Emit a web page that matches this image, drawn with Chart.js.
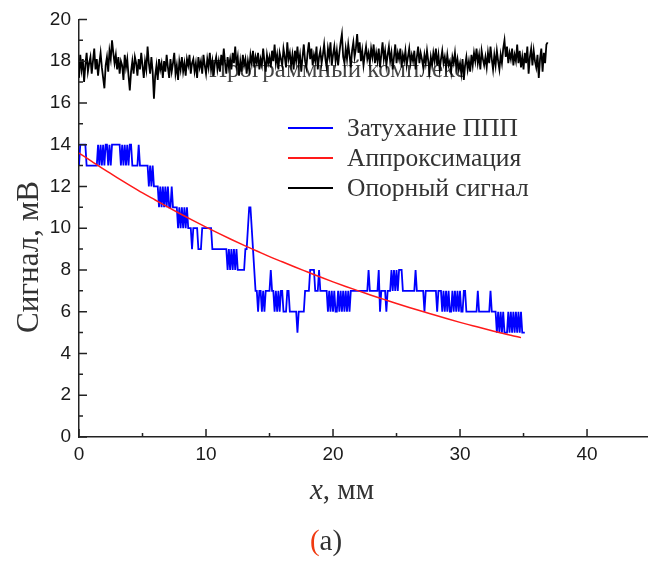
<!DOCTYPE html>
<html><head><meta charset="utf-8">
<style>html,body{margin:0;padding:0;background:#fff}canvas{display:block}</style>
<script src="https://cdn.jsdelivr.net/npm/chart.js@4.4.1/dist/chart.umd.min.js"></script>
</head><body>
<canvas id="c" width="648" height="562"></canvas>
<script>
const seriesNames = ['Затухание ППП', 'Аппроксимация', 'Опорный сигнал'];
const seriesColors = ['#0000ff', '#ff1a1a', '#000000'];
const xTicks = [0, 10, 20, 30, 40];
const yTicks = [0, 2, 4, 6, 8, 10, 12, 14, 16, 18, 20];
const xMinorTicks = [5, 15, 25, 35];
const yMinorTicks = [1, 3, 5, 7, 9, 11, 13, 15, 17, 19];
const annotationText = 'Программный комплекс';
const yTitle = 'Сигнал, мВ';
const xTitleItalic = 'x';
const xTitleRest = ', мм';
const panelOpen = '(';
const panelRest = 'a)';

// blue: sampled every 0.1 mm from 0
const blueStep = 0.1;
const blueValues = [
13,14,14,14,14,14,13,13,13,13,
13,13,13,13,13,14,13,14,13,14,
13,14,14,13,14,13,14,14,14,14,
14,14,14,13,14,13,14,13,14,13,
14,14,13,13,13,13,13,14,13,13,
13,13,13,13,13,12,13,12,13,12,
12,12,12,11,12,11,12,11,12,11,
12,11,11,12,11,11,11,11,10,11,
10,11,10,11,10,11,10,10,10,9,
10,10,10,10,9,9,9,10,10,10,
10,10,10,10,10,9,9,9,9,9,
9,9,9,9,9,9,9,8,9,8,
9,8,9,8,9,8,8,8,8,8,
8,9,9,10,11,11,10,9,8,7,
7,6,7,7,6,7,6,7,7,7,
7,8,7,7,6,7,6,7,6,7,
7,6,6,6,7,7,6,6,6,6,
6,6,5,6,6,6,6,6,7,7,
7,7,8,8,8,8,7,7,7,8,
7,7,7,7,7,7,6,7,6,7,
6,7,6,6,7,6,7,6,7,6,
7,6,7,6,7,7,7,7,7,7,
7,7,7,7,7,7,7,7,8,7,
7,7,7,7,7,7,8,6,7,7,
7,7,6,7,7,7,8,7,8,7,
8,7,8,8,8,7,7,7,7,7,
7,7,7,7,7,8,7,7,7,7,
7,7,6,7,7,7,7,7,7,7,
7,7,6,7,7,7,6,7,6,7,
6,7,6,6,7,6,7,6,7,6,
7,6,6,7,7,6,6,6,6,6,
6,6,6,6,7,6,6,6,6,6,
6,6,6,6,7,6,6,6,6,5,
6,5,6,5,6,5,5,5,6,5,
6,5,6,5,6,5,6,5,6,5,
5,5
];

const redX = [0,1,2,3,4,5,6,7,8,9,10,11,12,13,14,15,16,17,18,19,20,21,22,23,24,25,26,27,28,29,30,31,32,33,34,34.8];
const redValues = [13.60,13.20,12.80,12.42,12.05,11.69,11.35,11.01,10.68,10.36,10.05,9.75,9.46,9.18,8.91,8.64,8.39,8.14,7.90,7.66,7.43,7.21,7.00,6.79,6.59,6.39,6.20,6.02,5.84,5.66,5.49,5.33,5.17,5.02,4.87,4.76];

// black: sampled every 0.1 mm from 0
const blackStep = 0.1;
const blackValues = [
17.2,18.3,17.6,18.1,17.0,17.8,18.4,17.5,17.9,18.2,
17.4,18.0,18.6,17.6,18.1,17.3,17.9,18.4,17.7,17.2,
16.7,17.8,18.2,17.5,18.5,18.1,19.0,18.4,17.9,18.3,
17.6,18.2,17.4,18.0,17.8,17.1,18.3,17.7,18.1,17.3,
16.6,17.5,18.0,17.4,18.2,17.9,17.3,18.1,17.6,18.4,
17.8,17.2,18.0,17.6,18.7,17.9,17.4,18.2,17.5,16.2,
17.3,17.8,17.1,18.1,17.6,17.9,17.2,18.0,17.5,18.3,
17.7,17.2,18.1,17.5,17.9,18.4,17.4,17.8,17.1,18.0,
17.6,18.2,17.5,17.9,17.3,18.1,17.8,18.3,17.4,17.9,
18.1,17.5,17.9,17.2,18.2,17.7,18.0,17.4,18.3,17.8,
17.4,18.1,17.7,18.4,17.6,18.0,17.3,17.9,18.2,17.6,
18.0,17.5,18.3,17.8,18.6,17.9,17.4,18.2,17.7,18.1,
17.6,18.4,17.9,18.7,17.8,18.2,17.3,18.0,17.5,18.3,
17.8,18.1,17.4,18.0,17.6,18.3,17.9,18.5,17.7,18.2,
17.9,18.4,17.6,18.1,17.8,18.6,18.0,17.5,18.3,17.9,
18.2,17.7,18.5,18.0,18.8,17.9,18.3,17.6,18.4,18.1,
17.8,18.6,18.2,17.7,18.9,18.1,18.4,17.8,18.3,17.6,
18.5,18.0,18.7,17.9,18.3,17.5,18.2,18.8,18.0,17.7,
18.4,18.9,18.1,18.6,17.8,18.3,18.0,18.7,17.6,18.2,
18.5,17.9,18.3,18.8,18.1,17.7,18.6,18.2,18.9,17.8,
18.3,18.7,18.0,18.5,17.8,18.4,18.9,19.3,18.2,17.9,
18.6,18.1,18.8,18.3,17.7,18.5,18.9,18.2,18.6,19.3,
18.4,18.9,18.0,18.5,17.8,18.3,18.7,18.1,18.4,17.9,
18.6,18.2,18.8,17.9,18.4,18.0,18.6,17.7,18.3,18.9,
18.1,18.5,17.8,18.3,18.7,18.0,18.4,17.6,18.2,18.8,
17.9,18.4,18.1,18.6,17.7,18.3,18.0,18.5,17.8,18.2,
18.6,17.9,18.3,18.0,18.5,17.6,18.2,18.7,17.9,18.4,
18.1,17.7,18.3,17.9,18.5,18.0,17.5,18.2,17.8,18.4,
18.0,18.6,17.8,18.3,17.6,18.1,18.5,17.9,18.2,17.7,
18.3,17.8,18.0,17.5,18.2,17.9,18.4,17.7,18.1,17.6,
17.9,17.4,18.1,17.1,17.8,18.2,17.6,18.0,17.5,18.3,
17.8,18.4,18.0,18.6,17.9,18.3,17.6,18.5,18.1,17.8,
18.2,17.7,18.4,17.9,18.7,18.1,17.6,18.3,17.8,18.5,
18.0,17.6,18.3,17.9,18.6,19.0,18.2,18.7,17.9,18.4,
18.1,18.6,17.8,18.3,18.0,18.8,17.9,18.5,17.7,18.2,
17.6,18.4,17.9,18.7,17.4,18.2,18.6,17.8,18.5,18.0,
17.7,18.3,17.2,18.1,18.6,17.5,18.4,17.9,18.8,18.9
];

const bluePts = blueValues.map((v, i) => ({x: +(i * blueStep).toFixed(2), y: v}));
const redPts = redValues.map((v, i) => ({x: redX[i], y: v}));
const blackPts = blackValues.map((v, i) => ({x: +(i * blackStep).toFixed(2), y: v}));

const SERIF = '"Liberation Serif", "Times New Roman", serif';
const SANS = '"Liberation Sans", Arial, sans-serif';

const decor = {
  id: 'decor',
  beforeDatasetsDraw(chart) {
    const ctx = chart.ctx;
    ctx.save();
    ctx.font = '25px ' + SERIF;
    ctx.fillStyle = '#444';
    ctx.textBaseline = 'alphabetic';
    ctx.textAlign = 'left';
    ctx.fillText(annotationText, 209, 77);
    ctx.restore();
  },
  afterDraw(chart) {
    const ctx = chart.ctx;
    const xs = chart.scales.x, ys = chart.scales.y;
    const a = chart.chartArea;
    ctx.save();
    ctx.strokeStyle = '#222';
    ctx.lineWidth = 1.5;
    ctx.beginPath();
    xTicks.forEach(v => { const p = xs.getPixelForValue(v); ctx.moveTo(p, a.bottom); ctx.lineTo(p, a.bottom - 8); });
    xMinorTicks.forEach(v => { const p = xs.getPixelForValue(v); ctx.moveTo(p, a.bottom); ctx.lineTo(p, a.bottom - 4); });
    yTicks.forEach(v => { const p = ys.getPixelForValue(v); ctx.moveTo(a.left, p); ctx.lineTo(a.left + 8, p); });
    yMinorTicks.forEach(v => { const p = ys.getPixelForValue(v); ctx.moveTo(a.left, p); ctx.lineTo(a.left + 4, p); });
    ctx.stroke();

    // legend
    const rows = [128, 158, 188];
    ctx.font = '25.5px ' + SERIF;
    ctx.textBaseline = 'middle';
    ctx.textAlign = 'left';
    seriesNames.forEach((n, i) => {
      ctx.strokeStyle = seriesColors[i];
      ctx.lineWidth = 2;
      ctx.beginPath(); ctx.moveTo(288, rows[i]); ctx.lineTo(333, rows[i]); ctx.stroke();
      ctx.fillStyle = '#333';
      ctx.fillText(n, 347, rows[i] + 1);
    });

    // y title
    ctx.save();
    ctx.translate(30, 257);
    ctx.rotate(-Math.PI / 2);
    ctx.font = '31px ' + SERIF;
    ctx.fillStyle = '#333';
    ctx.textAlign = 'center';
    ctx.textBaseline = 'middle';
    ctx.fillText(yTitle, 0, 0);
    ctx.restore();

    // x title
    ctx.textBaseline = 'alphabetic';
    ctx.font = 'italic 29px ' + SERIF;
    const w1 = ctx.measureText(xTitleItalic).width;
    ctx.font = '29px ' + SERIF;
    const w2 = ctx.measureText(xTitleRest).width;
    let x0 = 342 - (w1 + w2) / 2;
    ctx.fillStyle = '#333';
    ctx.font = 'italic 29px ' + SERIF;
    ctx.fillText(xTitleItalic, x0, 499);
    ctx.font = '29px ' + SERIF;
    ctx.fillText(xTitleRest, x0 + w1, 499);

    // panel label
    ctx.font = '29px ' + SERIF;
    const p1 = ctx.measureText(panelOpen).width;
    const p2 = ctx.measureText(panelRest).width;
    let px = 326 - (p1 + p2) / 2;
    ctx.fillStyle = '#f03a10';
    ctx.fillText(panelOpen, px, 550);
    ctx.fillStyle = '#333';
    ctx.fillText(panelRest, px + p1, 550);
    ctx.restore();
  }
};

new Chart(document.getElementById('c'), {
  type: 'line',
  data: {
    datasets: [
      {label: seriesNames[0], data: bluePts, borderColor: seriesColors[0], borderWidth: 1.8, pointRadius: 0, tension: 0, order: 1},
      {label: seriesNames[1], data: redPts, borderColor: seriesColors[1], borderWidth: 1.5, pointRadius: 0, tension: 0.4, cubicInterpolationMode: 'monotone', order: 0},
      {label: seriesNames[2], data: blackPts, borderColor: seriesColors[2], borderWidth: 1.8, pointRadius: 0, tension: 0, order: 2}
    ]
  },
  options: {
    responsive: false,
    animation: false,
    devicePixelRatio: 1,
    layout: {padding: {top: 18, right: 0, left: 0, bottom: 0}},
    plugins: {legend: {display: false}, tooltip: {enabled: false}},
    scales: {
      x: {
        type: 'linear', min: 0, max: 44.8,
        grid: {display: false, drawTicks: false},
        border: {display: true, color: '#222', width: 1.5},
        afterBuildTicks: s => { s.ticks = xTicks.map(v => ({value: v})); },
        afterFit: s => { s.height = 125; },
        ticks: {font: {family: SANS, size: 19}, color: '#1a1a1a', padding: 6, maxRotation: 0, autoSkip: false}
      },
      y: {
        type: 'linear', min: 0, max: 20,
        grid: {display: false, drawTicks: false},
        border: {display: true, color: '#222', width: 1.5},
        afterBuildTicks: s => { s.ticks = yTicks.map(v => ({value: v})); },
        afterFit: s => { s.width = 79; },
        ticks: {font: {family: SANS, size: 19}, color: '#1a1a1a', padding: 8, autoSkip: false}
      }
    }
  },
  plugins: [decor]
});
</script>
</body></html>
